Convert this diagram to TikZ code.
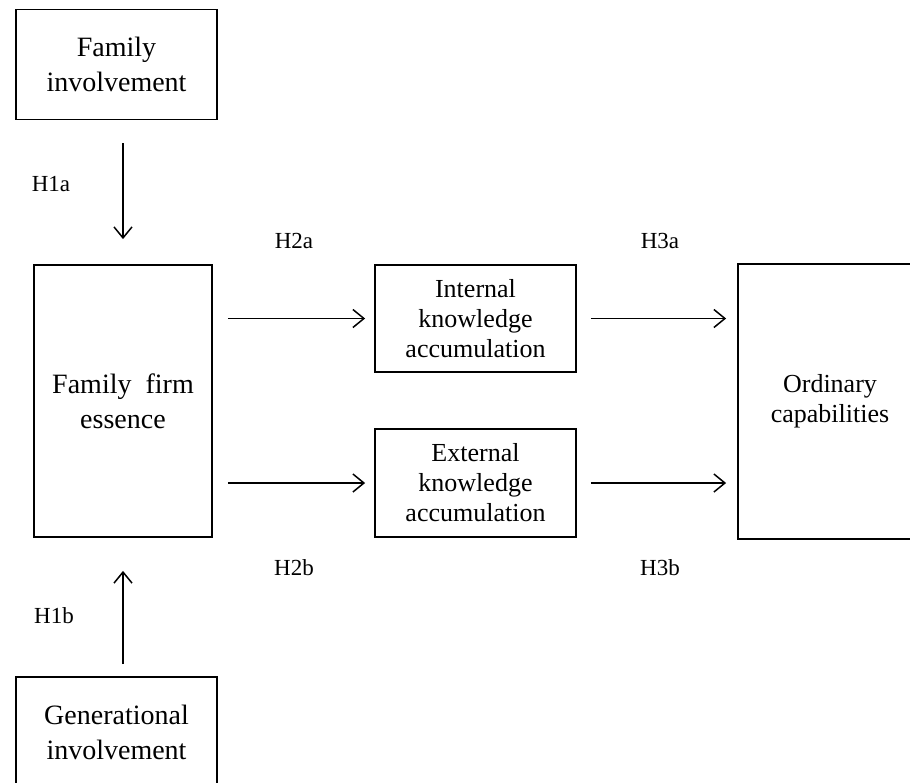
\documentclass[tikz,border=0pt]{standalone}
\usepackage{fontspec}
\setmainfont{Liberation Serif}
\usetikzlibrary{arrows.meta}
\tikzset{
  box/.style = {draw=black, line width=1.8pt, align=center, inner sep=0pt,
    text centered},
  bigbox/.style = {box, font=\fontsize{28}{35}\selectfont},% boites gauche
  smallbox/.style = {box, font=\fontsize{26}{30}\selectfont},% boites milieu
  hlabel/.style = {font=\fontsize{23}{27}\selectfont},
  arr/.style = {line width=1.5pt, -{Straight Barb[length=11pt,width=18pt,line width=1.5pt]}}
}
\begin{document}
\begin{tikzpicture}[x=1pt,y=-1pt]
\useasboundingbox (0,0) rectangle (910,782);
\clip (0,0) rectangle (910,782);
% boites
\node [bigbox, minimum width=201pt, minimum height=110pt] (fi) at (116.5,64.5)
  {Family\\involvement};
\node [bigbox, minimum width=178pt, minimum height=272pt] (ffe) at (123,401)
  {Family\ \ firm\\essence};
\node [smallbox, minimum width=201pt, minimum height=107pt] (ika) at (475.5,318.5)
  {Internal\\knowledge\\accumulation};
\node [smallbox, minimum width=201pt, minimum height=108pt] (eka) at (475.5,483)
  {External\\knowledge\\accumulation};
\node [smallbox, minimum width=184pt, minimum height=275pt] (oc) at (830,401.5)
  {Ordinary\\capabilities};
\node [bigbox, minimum width=201pt, minimum height=110pt] (gi) at (116.5,732)
  {Generational\\involvement};
% fleches
\draw [arr, shorten <=23pt, shorten >=25pt] (ffe.north |- fi.south) -- (ffe.north);
\draw [arr, shorten <=12pt, shorten >=33pt] (ffe.south |- gi.north) -- (ffe.south);
\draw [arr, shorten <=15pt, shorten >=9pt] (ffe.east |- ika.west) -- (ika.west);
\draw [arr, shorten <=15pt, shorten >=9pt] (ffe.east |- eka.west) -- (eka.west);
\draw [arr, shorten <=14pt, shorten >=11pt] (ika.east) -- (oc.west |- ika.east);
\draw [arr, shorten <=14pt, shorten >=11pt] (eka.east) -- (oc.west |- eka.east);
% hypotheses
\node [hlabel] (h1a) at (51,184) {H1a};
\node [hlabel] (h1b) at (54,616) {H1b};
\node [hlabel] (h2a) at (294,241) {H2a};
\node [hlabel] (h2b) at (294,568) {H2b};
\node [hlabel] (h3a) at (660,241) {H3a};
\node [hlabel] (h3b) at (660,568) {H3b};
\end{tikzpicture}
\end{document}
